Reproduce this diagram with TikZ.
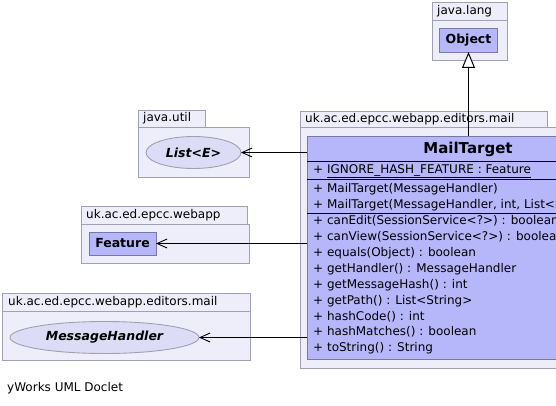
\documentclass[tikz,border=0pt]{standalone}
\usepackage{fontspec}
\setmainfont{DejaVu Sans}
\usetikzlibrary{arrows.meta,shapes.geometric}
\definecolor{pkgfill}{RGB}{238,238,250}
\definecolor{pkgline}{RGB}{160,160,180}
\definecolor{clsfill}{RGB}{182,182,250}
\definecolor{clsline}{RGB}{120,120,160}
\definecolor{ellfill}{RGB}{220,220,246}
\tikzset{
  pkg/.style={draw=pkgline, fill=pkgfill, line width=0.9pt, inner sep=0pt, outer sep=0pt, anchor=north west},
  pkglabel/.style={anchor=west, inner sep=0pt, font=\fontsize{12}{14}\selectfont},
  clsbox/.style={draw=clsline, fill=clsfill, line width=0.9pt, inner sep=0pt, outer sep=0pt, anchor=north west},
  iface/.style={ellipse, draw=pkgline, fill=ellfill, line width=0.9pt, inner sep=0pt, outer sep=0pt, font=\fontsize{12.5}{14}\selectfont\bfseries\itshape},
  member/.style={anchor=west, inner sep=0pt, font=\fontsize{12}{14}\selectfont},
  dep/.style={draw=black, line width=1pt, -{Straight Barb[length=10pt,width=9pt,line width=0.9pt]}},
  gen/.style={draw=black, line width=1pt, -{Triangle[open,length=16pt,width=13pt,line width=1pt,fill=white]}},
  sepline/.style={draw=black, line width=1pt}
}
\begin{document}
\begin{tikzpicture}[x=1pt,y=-1pt]
\useasboundingbox (0,0) rectangle (556,406);
\clip (0,0) rectangle (556,406);
\fill[white] (0,0) rectangle (556,406);

% java.lang package
\node[pkg, minimum width=75pt, minimum height=18pt] (langtab) at (432,2) {};
\node[pkglabel] at (437,11) {java.lang};
\node[pkg, minimum width=75pt, minimum height=40pt] (langbody) at (432,20) {};
\node[clsbox, minimum width=58pt, minimum height=24pt] (object) at (439.5,28) {};
\node[font=\fontsize{12.5}{14}\selectfont\bfseries] at (object.center) {Object};

% java.util package
\node[pkg, minimum width=67pt, minimum height=17pt] (utiltab) at (138,110) {};
\node[pkglabel] at (143,118.5) {java.util};
\node[pkg, minimum width=111pt, minimum height=50pt] (utilbody) at (138,127) {};
\node[iface, minimum width=95pt, minimum height=32pt] (list) at (193.5,152.5) {List<E>};

% uk.ac.ed.epcc.webapp package
\node[pkg, minimum width=166pt, minimum height=18pt] (webtab) at (81,206) {};
\node[pkglabel] at (86,215) {uk.ac.ed.epcc.webapp};
\node[pkg, minimum width=168pt, minimum height=39pt] (webbody) at (81,224) {};
\node[clsbox, minimum width=67pt, minimum height=23pt] (feature) at (89,232) {};
\node[font=\fontsize{12.5}{14}\selectfont\bfseries] at (feature.center) {Feature};

% uk.ac.ed.epcc.webapp.editors.mail package (left)
\node[pkg, minimum width=248pt, minimum height=18pt] (mhtab) at (2,293) {};
\node[pkglabel] at (8,302) {uk.ac.ed.epcc.webapp.editors.mail};
\node[pkg, minimum width=248pt, minimum height=49pt] (mhbody) at (2,311) {};
\node[iface, minimum width=189pt, minimum height=32pt] (handler) at (104.5,337.5) {MessageHandler};

% uk.ac.ed.epcc.webapp.editors.mail package (right)
\node[pkg, minimum width=247pt, minimum height=16pt] (mailtab) at (300,111) {};
\node[pkglabel] at (305,119) {uk.ac.ed.epcc.webapp.editors.mail};
\node[pkg, minimum width=330pt, minimum height=241pt] (mailbody) at (300,127) {};

% MailTarget class
\node[clsbox, minimum width=322pt, minimum height=223pt] (cls) at (307,136) {};
\node[font=\fontsize{15}{18}\selectfont\bfseries] (title) at (468,149) {MailTarget};
\draw[sepline] (307,162) -- (629,162);
\draw[sepline] (307,179) -- (629,179);
\draw[sepline] (307,213) -- (629,213);
\node[member] (m0) at (313,171) {+ \underline{IGNORE\_HASH\_FEATURE : Feature}};
\node[member] (c1) at (313,189) {+ MailTarget(MessageHandler)};
\node[member] (c2) at (313,205) {+ MailTarget(MessageHandler, int, List<String>)};
\node[member] (f1) at (313,221) {+ canEdit(SessionService<?>) : boolean};
\node[member] (f2) at (313,237) {+ canView(SessionService<?>) : boolean};
\node[member] (f3) at (313,253.5) {+ equals(Object) : boolean};
\node[member] (f4) at (313,269.5) {+ getHandler() : MessageHandler};
\node[member] (f5) at (313,285) {+ getMessageHash() : int};
\node[member] (f6) at (313,301) {+ getPath() : List<String>};
\node[member] (f7) at (313,316.5) {+ hashCode() : int};
\node[member] (f8) at (313,332) {+ hashMatches() : boolean};
\node[member] (f9) at (313,348) {+ toString() : String};

% connectors
\draw[gen] (cls.north -| object.south) -- (object.south);
\draw[dep] (cls.west |- list.east) -- (list.east);
\draw[dep] (cls.west |- feature.east) -- (feature.east);
\draw[dep] (cls.west |- handler.east) -- (handler.east);

% footer
\node[anchor=west, inner sep=0pt, font=\fontsize{12}{14}\selectfont] (footer) at (7,388) {yWorks UML Doclet};
\end{tikzpicture}
\end{document}
